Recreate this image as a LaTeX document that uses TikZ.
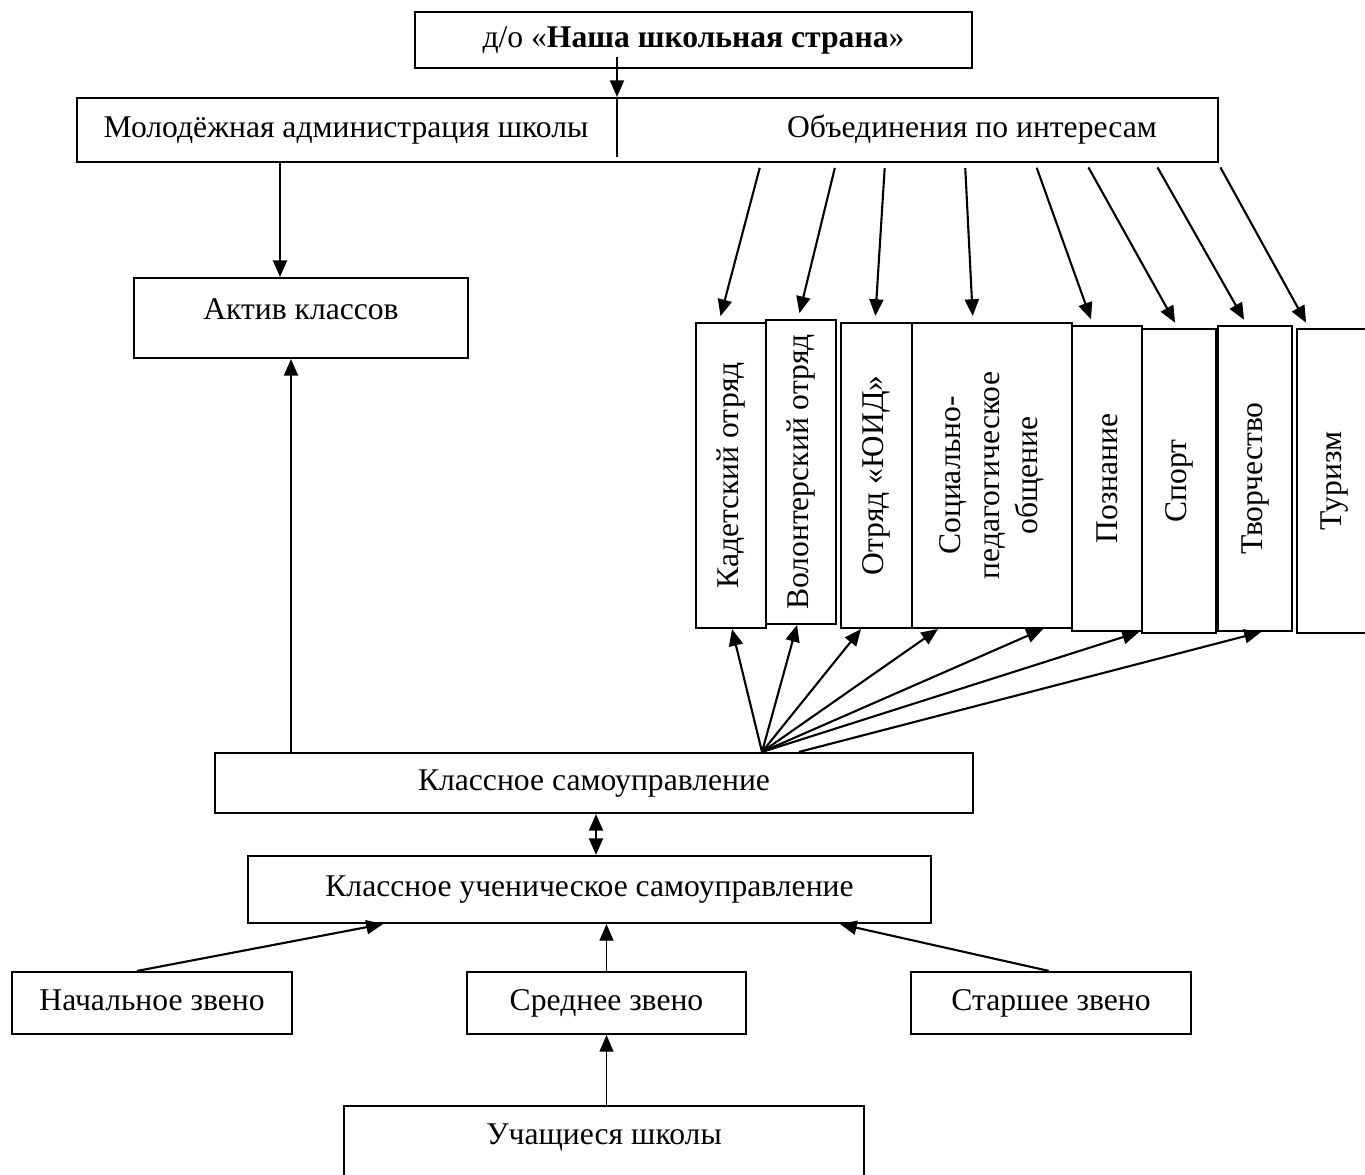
\documentclass[tikz,border=0pt]{standalone}
\usepackage{fontspec}
\setmainfont{Liberation Serif}
\usetikzlibrary{arrows.meta}
\tikzstyle{box} = [rectangle, 
draw=black, 
line width=1.2pt, 
inner sep=0pt, 
text centered, 
font=\fontsize{18}{22}\selectfont]
\tikzstyle{hbox} = [box, text height=12pt, text depth=4pt]
\tikzstyle{txt} = [inner sep=0pt, text height=12pt, text depth=4pt, font=\fontsize{18}{22}\selectfont]
\tikzstyle{vbox} = [box, rotate=90, 
minimum width=6.1cm, 
align=center]
\tikzstyle{arrow} = [line width=1.2pt,->,>={Triangle[length=9.5pt,width=8pt]}]
\tikzstyle{fan} = [arrow, shorten <=0.1cm, shorten >=0.12cm]

\begin{document}
\begin{tikzpicture}[x=0.02cm, y=-0.02cm]
\useasboundingbox (0,0) rectangle (1365,1175);

% top
\node (nasha) [hbox, minimum width=11.14cm, minimum height=1.12cm] at (693.5,40) {д/о «\textbf{Наша школьная страна}»};
\node (uni) [box, minimum width=22.82cm, minimum height=1.28cm] at (647.5,130) {};
\node (mol) [txt] at (346,130) {Молодёжная администрация школы};
\node (obj) [txt] at (972,130) {Объединения по интересам};
\coordinate (splittop) at (617,57);
\coordinate (splitbot) at (617,157);
\node (act) [hbox, text depth=10pt, minimum width=6.68cm, minimum height=1.6cm] at (301,318) {Актив классов};

% interest groups
\node (kad) [vbox, minimum height=1.4cm] at (731,475.5) {Кадетский отряд};
\node (vol) [vbox, minimum width=6.08cm, minimum height=1.4cm] at (801,472) {Волонтерский отряд};
\node (yuid) [vbox, minimum height=1.42cm] at (876.5,475.5) {Отряд «ЮИД»};
\node (soc) [vbox, minimum height=3.2cm] at (992,475.5) {Социально-\\педагогическое\\общение};
\node (poz) [vbox, minimum height=1.4cm] at (1107,478.5) {Познание};
\node (spo) [vbox, minimum width=6.08cm, minimum height=1.48cm] at (1179,481) {Спорт};
\node (tvor) [vbox, minimum height=1.48cm] at (1255,478.5) {Творчество};
\node (tur) [vbox, minimum width=6.08cm, minimum height=1.52cm] at (1335,481) {Туризм};

% bottom
\node (ksu) [hbox, minimum width=15.16cm, minimum height=1.2cm] at (594,783) {Классное самоуправление};
\node (kus) [hbox, minimum width=13.66cm, minimum height=1.34cm] at (589.5,889.5) {Классное ученическое самоуправление};
\node (nach) [hbox, minimum width=5.6cm, minimum height=1.24cm] at (152,1003) {Начальное звено};
\node (sred) [hbox, minimum width=5.58cm, minimum height=1.24cm] at (606.5,1003) {Среднее звено};
\node (star) [hbox, minimum width=5.6cm, minimum height=1.24cm] at (1051,1003) {Старшее звено};
\node (stu) [box, minimum width=10.4cm, anchor=north, text height=22pt, text depth=35pt] at (604,1105) {Учащиеся школы};

\draw [arrow] (splittop) -- (uni.north -| splittop);
\draw [line width=1.2pt] (uni.north -| splittop) -- (splitbot);
\draw [arrow] (uni.south -| 280,0) -- (act.north -| 280,0);

\draw [fan] (uni.south -| 761,0) -- (kad.east -| 719,0);
\draw [fan] (uni.south -| 836,0) -- (vol.east -| 798,0);
\draw [fan] (uni.south -| 885,0) -- (yuid.east -| 875,0);
\draw [fan] (uni.south -| 965,0) -- (soc.east -| 973,0);
\draw [fan] (uni.south -| 1035,0) -- (poz.east -| 1093,0);
\draw [fan] (uni.south -| 1086,0) -- (spo.east -| 1178,0);
\draw [fan] (uni.south -| 1155,0) -- (tvor.east -| 1247,0);
\draw [fan] (uni.south -| 1218,0) -- (tur.east -| 1309,0);

\draw [arrow] (ksu.north -| 291,0) -- (act.south -| 291,0);
\draw [arrow] (ksu.north -| 762,0) -- (kad.west -| 732,0);
\draw [arrow] (ksu.north -| 762,0) -- (vol.west -| 797,0);
\draw [arrow] (ksu.north -| 762,0) -- (yuid.west -| 861,0);
\draw [arrow] (ksu.north -| 762,0) -- (soc.west -| 938,0);
\draw [arrow] (ksu.north -| 762,0) -- (soc.west -| 1043,0);
\draw [arrow] (ksu.north -| 762,0) -- (poz.west -| 1139,0);
\draw [arrow] (ksu.north -| 799,0) -- (tvor.west -| 1261,0);

\draw [arrow, <->] (ksu.south -| 596,0) -- (kus.north -| 596,0);
\draw [arrow] (nach.north -| 137,0) -- (kus.south -| 383,0);
\draw [arrow, line width=0.8pt] (sred.north) -- (kus.south -| sred.north);
\draw [arrow] (star.north -| 1049,0) -- (kus.south -| 840,0);
\draw [arrow, line width=0.8pt] (stu.north -| sred.south) -- (sred.south);

\end{tikzpicture}
\end{document}
